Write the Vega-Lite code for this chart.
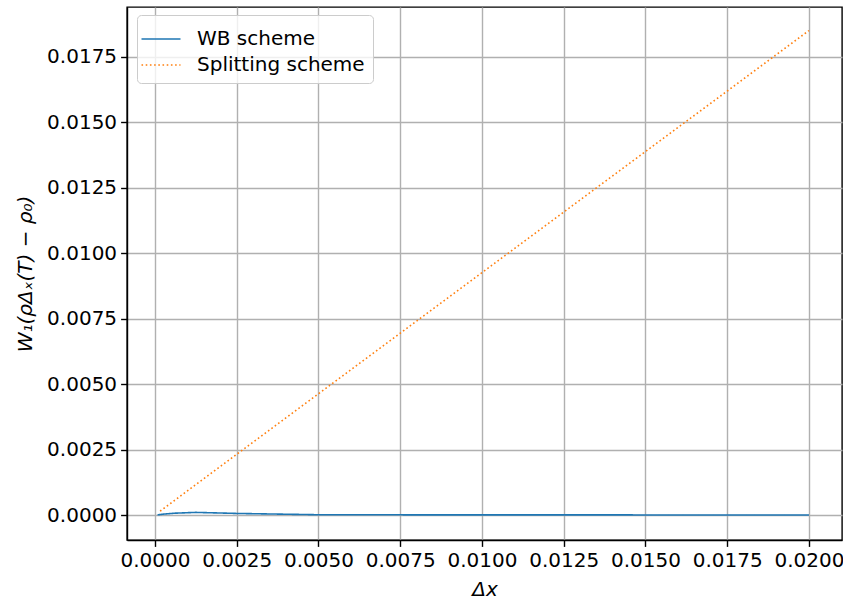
{
  "$schema": "https://vega.github.io/schema/vega-lite/v6.json",
  "autosize": "none",
  "width": 715,
  "height": 533,
  "padding": {"left": 127, "top": 7, "right": 1, "bottom": 61},
  "background": "white",
  "config": {
    "font": "DejaVu Sans",
    "view": {"stroke": "black", "strokeWidth": 1.4},
    "axis": {
      "labelFont": "DejaVu Sans",
      "labelFontSize": 20,
      "labelColor": "black",
      "titleFont": "DejaVu Sans",
      "titleFontSize": 20,
      "titleFontWeight": "normal",
      "titleColor": "black",
      "gridColor": "#b0b0b0",
      "gridWidth": 1.4,
      "gridOpacity": 1,
      "domainColor": "black",
      "domainWidth": 1.4,
      "tickColor": "black",
      "tickWidth": 1.4,
      "tickSize": 6.4,
      "labelPadding": 4
    }
  },
  "data": {
    "values": [
      {"dx": 0.000078125, "w": 0.0, "scheme": "WB scheme"},
      {"dx": 0.00015625, "w": 0.00002, "scheme": "WB scheme"},
      {"dx": 0.0003125, "w": 0.00004, "scheme": "WB scheme"},
      {"dx": 0.000625, "w": 0.00007, "scheme": "WB scheme"},
      {"dx": 0.00125, "w": 0.0001, "scheme": "WB scheme"},
      {"dx": 0.0025, "w": 0.00006, "scheme": "WB scheme"},
      {"dx": 0.005, "w": 0.00001, "scheme": "WB scheme"},
      {"dx": 0.01, "w": 0.000004, "scheme": "WB scheme"},
      {"dx": 0.02, "w": 0.000002, "scheme": "WB scheme"},
      {"dx": 0.00015625, "w": 0.000145, "scheme": "Splitting scheme"},
      {"dx": 0.0003125, "w": 0.00029, "scheme": "Splitting scheme"},
      {"dx": 0.000625, "w": 0.00058, "scheme": "Splitting scheme"},
      {"dx": 0.00125, "w": 0.00116, "scheme": "Splitting scheme"},
      {"dx": 0.0025, "w": 0.00232, "scheme": "Splitting scheme"},
      {"dx": 0.005, "w": 0.00463, "scheme": "Splitting scheme"},
      {"dx": 0.01, "w": 0.00926, "scheme": "Splitting scheme"},
      {"dx": 0.02, "w": 0.01851, "scheme": "Splitting scheme"}
    ]
  },
  "mark": {"type": "line", "strokeWidth": 1.6, "clip": true},
  "encoding": {
    "x": {
      "field": "dx",
      "type": "quantitative",
      "scale": {"domain": [-0.000856, 0.02101], "nice": false, "zero": false},
      "axis": {
        "title": "Δx",
        "titleFontStyle": "italic",
        "values": [0, 0.0025, 0.005, 0.0075, 0.01, 0.0125, 0.015, 0.0175, 0.02],
        "format": ".4f",
        "titlePadding": 9,
        "labelOverlap": false,
        "labelBound": false
      }
    },
    "y": {
      "field": "w",
      "type": "quantitative",
      "scale": {"domain": [-0.000955, 0.01941], "nice": false, "zero": false},
      "axis": {
        "title": "W₁(ρΔₓ(T) − ρ₀)",
        "titleFontStyle": "italic",
        "values": [0, 0.0025, 0.005, 0.0075, 0.01, 0.0125, 0.015, 0.0175],
        "format": ".4f",
        "titlePadding": 11
      }
    },
    "color": {
      "field": "scheme",
      "type": "nominal",
      "scale": {"domain": ["WB scheme", "Splitting scheme"], "range": ["#1f77b4", "#ff7f0e"]},
      "legend": {
        "title": null,
        "orient": "none",
        "legendX": 10,
        "legendY": 8,
        "symbolType": "M-1.3,0L1.3,0",
        "symbolSize": 900,
        "symbolStrokeWidth": 1.6,
        "labelFontSize": 20,
        "labelFont": "DejaVu Sans",
        "labelColor": "black",
        "labelLimit": 0,
        "rowPadding": 0,
        "padding": 8,
        "fillColor": "rgba(255,255,255,0.8)",
        "strokeColor": "#cccccc",
        "cornerRadius": 4,
        "labelOffset": 20
      }
    },
    "strokeDash": {
      "field": "scheme",
      "type": "nominal",
      "scale": {"domain": ["WB scheme", "Splitting scheme"], "range": [[1, 0], [1.6, 2.6]]},
      "legend": null
    }
  }
}
